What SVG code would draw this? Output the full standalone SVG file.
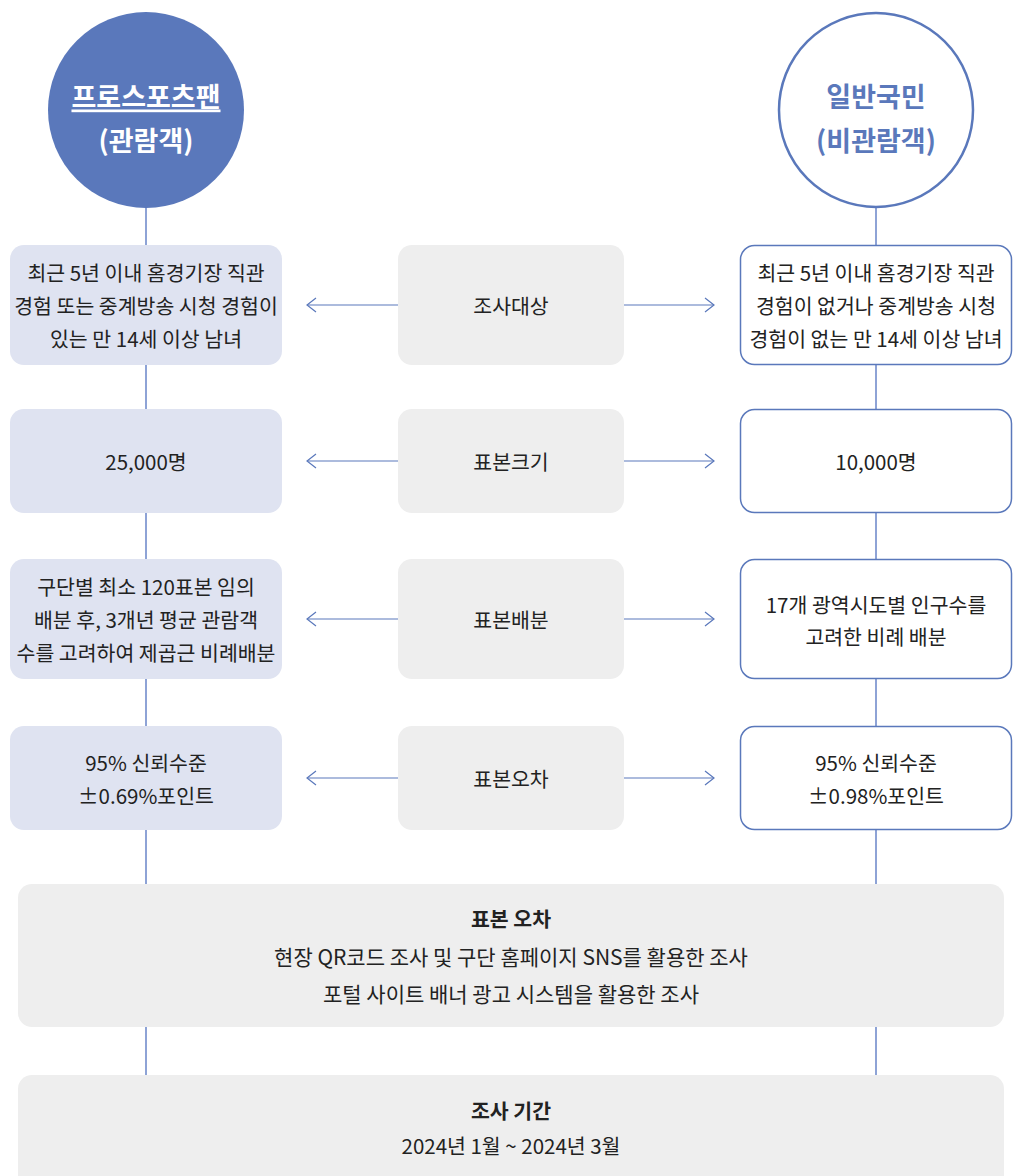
<svg xmlns="http://www.w3.org/2000/svg" width="1018" height="1176" viewBox="0 0 1018 1176">
<style>
text{font-family:"Noto Sans CJK KR","Noto Sans",sans-serif;font-size:20.5px;fill:#222;text-anchor:middle;dominant-baseline:central}
.title{font-size:27px;font-weight:700}
.b{font-weight:700}
.w{font-size:21px}
.lb{fill:#dfe3f1}
.mb{fill:#eeeeee}
.rb{fill:#fff;stroke:#5a78bb;stroke-width:1.5}
.vl{stroke:#8ea3d6;stroke-width:2;fill:none}
.ar{stroke:#5a78bb;stroke-width:1.2;fill:none}
</style>
<defs>
<marker id="ah" markerWidth="12" markerHeight="16" refX="10" refY="8" orient="auto" markerUnits="userSpaceOnUse">
<path d="M1,1 L10,8 L1,15" fill="none" stroke="#5a78bb" stroke-width="1.2"/>
</marker>
</defs>
<g id="connectors">
<line class="vl" x1="146" y1="200" x2="146" y2="1076"/>
<line class="vl" x1="876" y1="200" x2="876" y2="1076"/>
<line class="ar" x1="398" y1="305" x2="307" y2="305" marker-end="url(#ah)"/>
<line class="ar" x1="624" y1="305" x2="714" y2="305" marker-end="url(#ah)"/>
<line class="ar" x1="398" y1="461" x2="307" y2="461" marker-end="url(#ah)"/>
<line class="ar" x1="624" y1="461" x2="714" y2="461" marker-end="url(#ah)"/>
<line class="ar" x1="398" y1="619" x2="307" y2="619" marker-end="url(#ah)"/>
<line class="ar" x1="624" y1="619" x2="714" y2="619" marker-end="url(#ah)"/>
<line class="ar" x1="398" y1="778" x2="307" y2="778" marker-end="url(#ah)"/>
<line class="ar" x1="624" y1="778" x2="714" y2="778" marker-end="url(#ah)"/>
</g>
<g id="fans">
<circle cx="146" cy="110" r="98" fill="#5a78bb"/>
<text class="title" x="146" y="95" style="fill:#fff" text-decoration="underline">프로스포츠팬</text>
<text class="title" x="146" y="139" style="fill:#fff">(관람객)</text>
</g>
<g id="public">
<circle cx="876" cy="110" r="97" fill="#fff" stroke="#5a78bb" stroke-width="2.5"/>
<text class="title" x="876" y="95" style="fill:#5a78bb">일반국민</text>
<text class="title" x="876" y="139" style="fill:#5a78bb">(비관람객)</text>
</g>
<g id="l1"><rect class="lb" x="10" y="245" width="272" height="120" rx="14"/>
<text x="146" y="272">최근 5년 이내 홈경기장 직관</text><text x="146" y="305">경험 또는 중계방송 시청 경험이</text><text x="146" y="338">있는 만 14세 이상 남녀</text></g>
<g id="m1"><rect class="mb" x="398" y="245" width="226" height="120" rx="14"/><text x="511" y="305">조사대상</text></g>
<g id="r1"><rect class="rb" x="740.5" y="245.5" width="271" height="119" rx="14"/>
<text x="876" y="272">최근 5년 이내 홈경기장 직관</text><text x="876" y="305">경험이 없거나 중계방송 시청</text><text x="876" y="338">경험이 없는 만 14세 이상 남녀</text></g>
<g id="l2"><rect class="lb" x="10" y="409" width="272" height="104" rx="14"/><text x="146" y="461">25,000명</text></g>
<g id="m2"><rect class="mb" x="398" y="409" width="226" height="104" rx="14"/><text x="511" y="461">표본크기</text></g>
<g id="r2"><rect class="rb" x="740.5" y="409.5" width="271" height="103" rx="14"/><text x="876" y="461">10,000명</text></g>
<g id="l3"><rect class="lb" x="10" y="559" width="272" height="120" rx="14"/>
<text x="146" y="586">구단별 최소 120표본 임의</text><text x="146" y="619">배분 후, 3개년 평균 관람객</text><text x="146" y="652">수를 고려하여 제곱근 비례배분</text></g>
<g id="m3"><rect class="mb" x="398" y="559" width="226" height="120" rx="14"/><text x="511" y="619">표본배분</text></g>
<g id="r3"><rect class="rb" x="740.5" y="559.5" width="271" height="119" rx="14"/>
<text x="876" y="604">17개 광역시도별 인구수를</text><text x="876" y="636">고려한 비례 배분</text></g>
<g id="l4"><rect class="lb" x="10" y="726" width="272" height="104" rx="14"/>
<text x="146" y="762">95% 신뢰수준</text><text x="146" y="795">±0.69%포인트</text></g>
<g id="m4"><rect class="mb" x="398" y="726" width="226" height="104" rx="14"/><text x="511" y="778">표본오차</text></g>
<g id="r4"><rect class="rb" x="740.5" y="726.5" width="271" height="103" rx="14"/>
<text x="876" y="762">95% 신뢰수준</text><text x="876" y="795">±0.98%포인트</text></g>
<g id="method"><rect class="mb" x="18" y="884" width="986" height="143" rx="14"/>
<text class="b" x="511" y="918">표본 오차</text>
<text class="w" x="511" y="956">현장 QR코드 조사 및 구단 홈페이지 SNS를 활용한 조사</text>
<text class="w" x="511" y="993">포털 사이트 배너 광고 시스템을 활용한 조사</text></g>
<g id="period"><rect class="mb" x="18" y="1075" width="986" height="120" rx="14"/>
<text class="b" x="511" y="1110">조사 기간</text>
<text x="511" y="1145">2024년 1월 ~ 2024년 3월</text></g>
</svg>
